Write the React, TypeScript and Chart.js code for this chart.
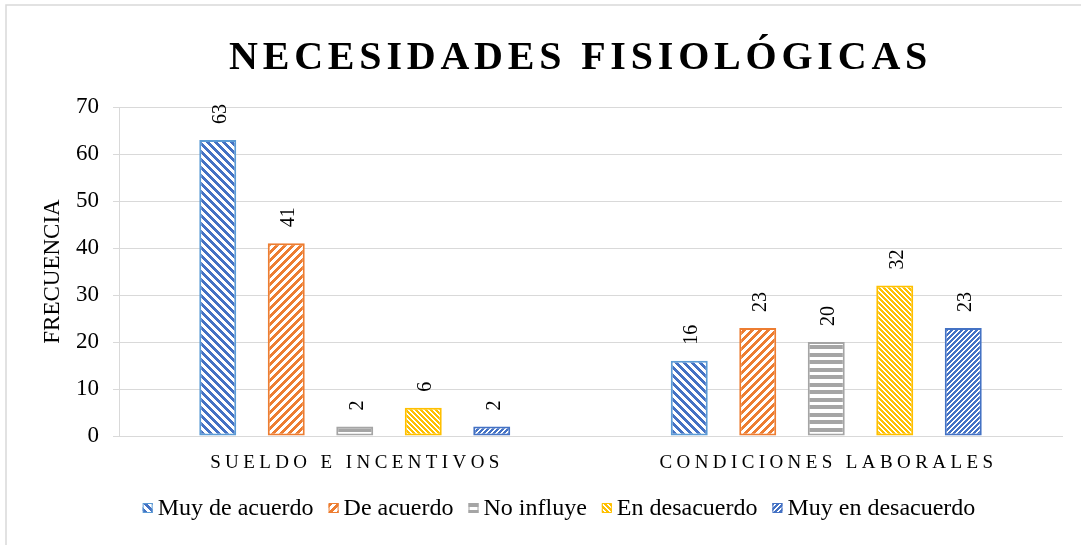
import React, { useEffect, useRef } from "react";
import { Chart, registerables } from "chart.js";

Chart.register(...registerables);

// ---- data ----
const categories = ["SUELDO E INCENTIVOS", "CONDICIONES LABORALES"];
const seriesNames = ["Muy de acuerdo", "De acuerdo", "No influye", "En desacuerdo", "Muy en desacuerdo"];
const muyDeAcuerdo = [63, 16];
const deAcuerdo = [41, 23];
const noInfluye = [2, 20];
const enDesacuerdo = [6, 32];
const muyEnDesacuerdo = [2, 23];
const yTicks = [0, 10, 20, 30, 40, 50, 60, 70];
const chartTitle = "NECESIDADES FISIOLÓGICAS";
const yAxisTitle = "FRECUENCIA";

const FONT = "'Liberation Serif', 'Times New Roman', serif";

type PatternTest = (x: number, y: number) => boolean;

function makePattern(ctx: CanvasRenderingContext2D, color: string, size: number, test: PatternTest) {
  const c = document.createElement("canvas");
  c.width = size;
  c.height = size;
  const g = c.getContext("2d")!;
  g.fillStyle = "#ffffff";
  g.fillRect(0, 0, size, size);
  g.fillStyle = color;
  for (let y = 0; y < size; y++) {
    for (let x = 0; x < size; x++) {
      if (test(x, y)) g.fillRect(x, y, 1, 1);
    }
  }
  return ctx.createPattern(c, "repeat")!;
}

const mod = (a: number, n: number) => ((a % n) + n) % n;

export default function App() {
  const ref = useRef<HTMLCanvasElement>(null);

  useEffect(() => {
    document.body.style.margin = "0";
    const canvas = ref.current!;
    const ctx = canvas.getContext("2d")!;

    const patterns = [
      makePattern(ctx, "#4472C4", 8, (x, y) => mod(x - y, 8) < 4),
      makePattern(ctx, "#ED7D31", 8, (x, y) => mod(x + y, 8) < 4),
      makePattern(ctx, "#A5A5A5", 15, (_x, y) => (y >= 0 && y <= 3) || (y >= 8 && y <= 11)),
      makePattern(ctx, "#FFC000", 5, (x, y) => mod(x - y, 5) < 3),
      makePattern(ctx, "#4472C4", 5, (x, y) => mod(x + y, 5) < 3),
    ];
    const borders = ["#5B9BD5", "#ED7D31", "#A5A5A5", "#FFC000", "#4472C4"];
    const values = [muyDeAcuerdo, deAcuerdo, noInfluye, enDesacuerdo, muyEnDesacuerdo];

    const overlay = {
      id: "overlay",
      afterDraw(chart: any) {
        const c: CanvasRenderingContext2D = chart.ctx;
        c.save();
        // outer frame (only top & left visible)
        c.strokeStyle = "#d9d9d9";
        c.lineWidth = 1.5;
        c.strokeRect(6, 5, 1200, 700);

        // title
        c.fillStyle = "#000";
        c.font = `bold 40px ${FONT}`;
        (c as any).letterSpacing = "4.8px";
        c.textAlign = "left";
        c.textBaseline = "alphabetic";
        c.fillText(chartTitle, 229, 69);

        // category labels
        c.font = `19px ${FONT}`;
        const ls = 4.4;
        const xs = chart.scales.x;
        categories.forEach((lab, i) => {
          (c as any).letterSpacing = "0px";
          const w = c.measureText(lab).width + ls * (lab.length - 1);
          (c as any).letterSpacing = `${ls}px`;
          const cx = xs.getPixelForValue(i);
          c.fillText(lab, cx - w / 2, 468);
        });
        (c as any).letterSpacing = "0px";

        // data labels (rotated)
        c.font = `20px ${FONT}`;
        chart.data.datasets.forEach((ds: any, di: number) => {
          const meta = chart.getDatasetMeta(di);
          meta.data.forEach((el: any, i: number) => {
            c.save();
            c.translate(el.x + 8, el.y - 16);
            c.rotate(-Math.PI / 2);
            c.textAlign = "left";
            c.textBaseline = "alphabetic";
            c.fillText(String(ds.data[i]), 0, 0);
            c.restore();
          });
        });

        // legend
        c.font = `24px ${FONT}`;
        const box = 10;
        const gapBT = 5;
        const gapItems = 15;
        const widths = seriesNames.map((n) => c.measureText(n).width);
        const total = widths.reduce((a, b) => a + b + box + gapBT, 0) + gapItems * (seriesNames.length - 1);
        let x = 559 - total / 2;
        const baseY = 515;
        seriesNames.forEach((n, i) => {
          c.fillStyle = patterns[i];
          c.fillRect(x, 503, box, box);
          c.strokeStyle = borders[i];
          c.lineWidth = 1;
          c.strokeRect(x + 0.5, 503.5, box - 1, box - 1);
          c.fillStyle = "#000";
          c.fillText(n, x + box + gapBT, baseY);
          x += box + gapBT + widths[i] + gapItems;
        });
        c.restore();
      },
    };

    const chart = new Chart(canvas, {
      type: "bar",
      data: {
        labels: categories,
        datasets: seriesNames.map((name, i) => ({
          label: name,
          data: values[i],
          backgroundColor: patterns[i],
          borderColor: borders[i],
          borderWidth: 2,
          borderSkipped: false,
          categoryPercentage: 0.7264,
          barPercentage: 0.54,
        })),
      },
      options: {
        responsive: false,
        animation: false,
        events: [],
        layout: { padding: { top: 107, right: 19, left: 0, bottom: 0 } },
        plugins: {
          legend: { display: false },
          title: { display: false },
          tooltip: { enabled: false },
        },
        scales: {
          x: {
            grid: { display: false, drawTicks: false },
            border: { display: true, color: "#d9d9d9", width: 1 },
            ticks: { display: false },
            afterFit: (s: any) => {
              s.height = 109;
            },
          },
          y: {
            min: 0,
            max: 70,
            afterBuildTicks: (s: any) => {
              s.ticks = yTicks.map((v) => ({ value: v }));
            },
            ticks: { font: { family: FONT, size: 23 }, color: "#000", padding: 14 },
            grid: { color: "#d9d9d9", tickLength: 6, lineWidth: 1 },
            border: { color: "#d9d9d9", width: 1 },
            title: {
              display: true,
              text: yAxisTitle,
              font: { family: FONT, size: 23 },
              color: "#000",
              padding: { top: 39, bottom: 0 },
            },
            afterFit: (s: any) => {
              s.width = 119;
            },
          },
        },
      },
      plugins: [overlay],
    } as any);

    return () => chart.destroy();
  }, []);

  return (
    <canvas
      ref={ref}
      width={1081}
      height={545}
      style={{ display: "block", width: 1081, height: 545 }}
    />
  );
}
